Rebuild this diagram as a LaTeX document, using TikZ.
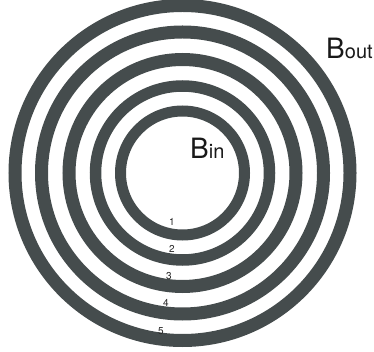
\documentclass[tikz,border=0pt]{standalone}
\usepackage{fontspec}
\setmainfont{TeX Gyre Heros}
\definecolor{ringcol}{HTML}{454C4D}
\tikzset{
  ring/.style={draw=ringcol},
  numlabel/.style={inner sep=0pt, font=\fontsize{10}{10}\selectfont, text=black!85},
  blabel/.style={inner sep=0pt, anchor=base west, text=black!90}
}
\begin{document}
\begin{tikzpicture}[x=1pt,y=-1pt]
\useasboundingbox (0,0) rectangle (374,352);
\coordinate (c) at (182.5,173);
\draw[ring, line width=13pt] (c) circle[radius=167.5pt];
\draw[ring, line width=13pt] (c) circle[radius=141pt];
\draw[ring, line width=13pt] (c) circle[radius=113.5pt];
\draw[ring, line width=11.5pt] (c) circle[radius=87pt];
\draw[ring, line width=11pt] (c) circle[radius=62pt];
\node[numlabel] (n1) at (172,222) {1};
\node[numlabel] (n2) at (172,249) {2};
\node[numlabel] (n3) at (169,276) {3};
\node[numlabel] (n4) at (166,303) {4};
\node[numlabel] (n5) at (161,331) {5};
\node[blabel] (bout) at (326,59) {{\fontsize{28}{28}\selectfont B}{\fontsize{20}{20}\selectfont out}};
\node[blabel] (bin) at (190,159) {{\fontsize{28}{28}\selectfont B}{\fontsize{20}{20}\selectfont in}};
\end{tikzpicture}
\end{document}
